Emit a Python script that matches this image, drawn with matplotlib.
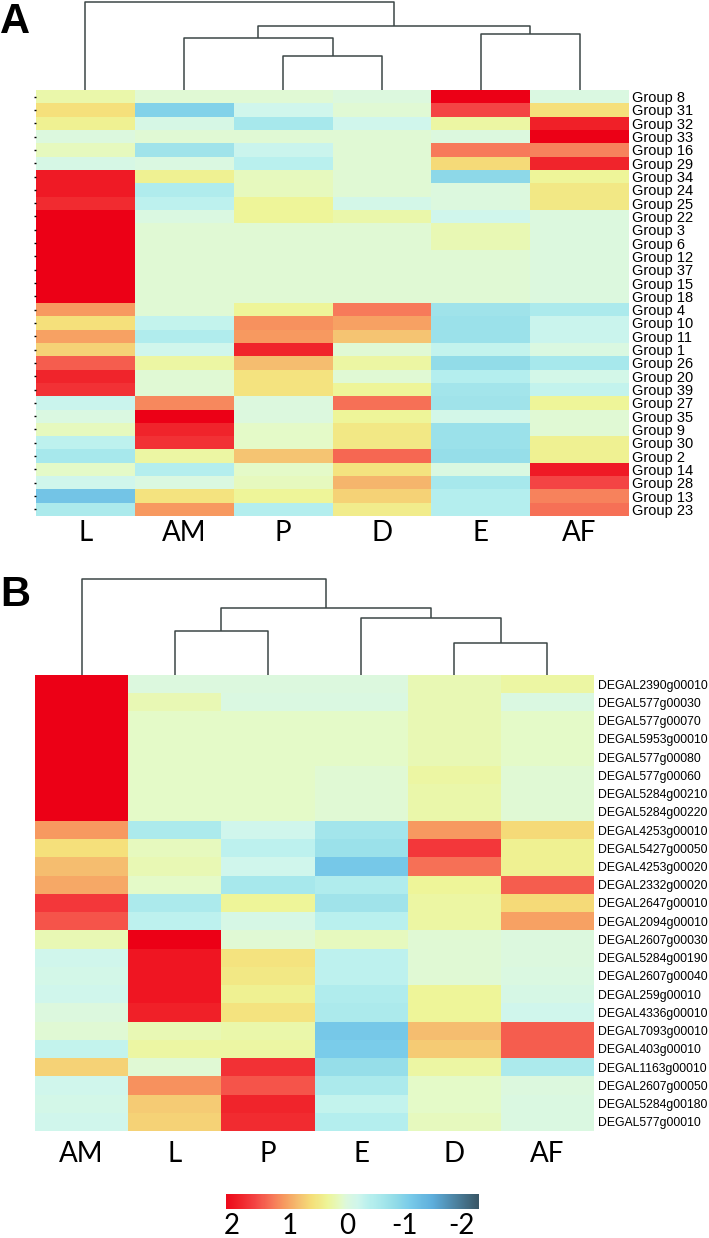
import matplotlib.pyplot as plt
from matplotlib.colors import LinearSegmentedColormap, Normalize
import numpy as np

W, H = 709, 1238

# ---- panel A data ----
cols_a = ["L", "AM", "P", "D", "E", "AF"]
rows_a = ["Group 8", "Group 31", "Group 32", "Group 33", "Group 16", "Group 29",
          "Group 34", "Group 24", "Group 25", "Group 22", "Group 3", "Group 6",
          "Group 12", "Group 37", "Group 15", "Group 18", "Group 4", "Group 10",
          "Group 11", "Group 1", "Group 26", "Group 20", "Group 39", "Group 27",
          "Group 35", "Group 9", "Group 30", "Group 2", "Group 14", "Group 28",
          "Group 13", "Group 23"]
vals_a = [
    [0.25, 0.05, 0.05, 0.0, 2.2, -0.05],
    [0.6, -1.0, -0.2, 0.05, 1.6, 0.6],
    [0.4, -0.1, -0.6, -0.2, 0.3, 1.9],
    [0.0, 0.05, 0.05, 0.05, 0.0, 2.2],
    [0.15, -0.7, -0.25, 0.05, 1.3, 1.25],
    [-0.1, -0.05, -0.4, 0.05, 0.65, 1.85],
    [1.95, 0.4, 0.15, 0.05, -0.9, 0.35],
    [1.95, -0.5, 0.15, 0.05, 0.0, 0.5],
    [1.8, -0.35, 0.35, -0.15, 0.0, 0.5],
    [2.2, -0.05, 0.35, 0.25, -0.2, 0.0],
    [2.2, 0.05, 0.05, 0.05, 0.2, 0.0],
    [2.2, 0.05, 0.05, 0.05, 0.2, 0.0],
    [2.2, 0.05, 0.05, 0.05, 0.05, 0.0],
    [2.2, 0.05, 0.05, 0.05, 0.05, 0.0],
    [2.2, 0.05, 0.05, 0.05, 0.05, 0.0],
    [2.2, 0.05, 0.05, 0.05, 0.05, 0.0],
    [1.1, 0.05, 0.35, 1.3, -0.7, -0.55],
    [0.6, -0.3, 1.15, 1.05, -0.75, -0.25],
    [1.05, -0.5, 1.1, 0.8, -0.75, -0.25],
    [0.7, -0.2, 1.85, 0.05, -0.3, -0.05],
    [1.45, 0.3, 0.85, 0.3, -0.85, -0.6],
    [1.85, 0.05, 0.55, 0.05, -0.45, -0.15],
    [1.75, 0.05, 0.55, 0.35, -0.65, -0.3],
    [-0.25, 1.2, 0.0, 1.35, -0.7, 0.35],
    [-0.05, 2.2, 0.0, 0.35, -0.15, 0.05],
    [0.15, 1.85, 0.1, 0.5, -0.75, 0.05],
    [-0.35, 1.75, 0.1, 0.5, -0.75, 0.4],
    [-0.6, 0.3, 0.8, 1.4, -0.8, 0.4],
    [0.1, -0.45, 0.1, 0.55, -0.05, 1.95],
    [-0.2, -0.05, 0.15, 0.9, -0.6, 1.6],
    [-1.2, 0.55, 0.35, 0.7, -0.45, 1.25],
    [-0.55, 1.1, -0.45, 0.45, -0.45, 1.35],
]
# merges: (left, right, height) ; ints refer to earlier merges
link_a = [("P", "D", 34), ("AM", 0, 52), ("E", "AF", 56), (1, 2, 64), ("L", 3, 88)]

# ---- panel B data ----
cols_b = ["AM", "L", "P", "E", "D", "AF"]
rows_b = ["DEGAL2390g00010", "DEGAL577g00030", "DEGAL577g00070", "DEGAL5953g00010",
          "DEGAL577g00080", "DEGAL577g00060", "DEGAL5284g00210", "DEGAL5284g00220",
          "DEGAL4253g00010", "DEGAL5427g00050", "DEGAL4253g00020", "DEGAL2332g00020",
          "DEGAL2647g00010", "DEGAL2094g00010", "DEGAL2607g00030", "DEGAL5284g00190",
          "DEGAL2607g00040", "DEGAL259g00010", "DEGAL4336g00010", "DEGAL7093g00010",
          "DEGAL403g00010", "DEGAL1163g00010", "DEGAL2607g00050", "DEGAL5284g00180",
          "DEGAL577g00010"]
vals_b = [
    [2.2, 0.0, 0.0, 0.0, 0.2, 0.3],
    [2.2, 0.2, -0.05, -0.05, 0.2, -0.05],
    [2.2, 0.1, 0.1, 0.1, 0.2, 0.1],
    [2.2, 0.1, 0.1, 0.1, 0.2, 0.1],
    [2.2, 0.1, 0.1, 0.1, 0.2, 0.1],
    [2.2, 0.1, 0.1, 0.05, 0.3, 0.05],
    [2.2, 0.1, 0.1, 0.05, 0.25, 0.05],
    [2.2, 0.1, 0.1, 0.05, 0.25, 0.05],
    [1.1, -0.55, -0.2, -0.65, 1.1, 0.65],
    [0.6, 0.15, -0.35, -0.75, 1.7, 0.4],
    [0.85, 0.2, -0.2, -1.15, 1.35, 0.4],
    [1.0, 0.1, -0.6, -0.5, 0.35, 1.45],
    [1.7, -0.55, 0.35, -0.7, 0.3, 0.65],
    [1.5, -0.35, -0.1, -0.4, 0.3, 1.05],
    [0.2, 2.2, 0.05, 0.15, 0.05, 0.0],
    [-0.2, 2.0, 0.55, -0.35, 0.05, 0.0],
    [-0.15, 2.0, 0.5, -0.35, 0.05, -0.05],
    [-0.2, 2.0, 0.4, -0.5, 0.35, -0.1],
    [0.0, 1.9, 0.55, -0.55, 0.35, -0.2],
    [0.05, 0.2, 0.25, -1.15, 0.85, 1.45],
    [-0.3, 0.3, 0.3, -1.1, 0.75, 1.45],
    [0.7, 0.05, 1.75, -0.8, 0.3, -0.55],
    [-0.2, 1.15, 1.5, -0.55, 0.1, 0.0],
    [-0.15, 0.75, 1.85, -0.3, 0.1, -0.05],
    [-0.2, 0.7, 1.8, -0.45, 0.15, -0.05],
]
link_b = [("L", "P", 44), ("D", "AF", 32), ("E", 1, 57), (0, 2, 67), ("AM", 3, 96)]

cbar_ticks = [2, 1, 0, -1, -2]

# colour scale
vmin, vmax = -2.3, 2.2
cmap_vals = [-2.3, -1.5, -1.1, -0.85, -0.6, -0.4, -0.2, 0.0, 0.1, 0.35, 0.6, 0.85,
             1.1, 1.3, 1.6, 1.9, 2.2]
cmap_cols = ["#3a5868", "#5eaedc", "#7accea", "#92dce8", "#a8e8ec", "#b8f0ee",
             "#d0f6ec", "#dcf8de", "#e4fac8", "#eef598", "#f5e07a", "#f5be70",
             "#f79a60", "#f77a5a", "#f44444", "#f02028", "#ec0016"]
cmap = LinearSegmentedColormap.from_list(
    "heat", [((v - vmin) / (vmax - vmin), c) for v, c in zip(cmap_vals, cmap_cols)])
norm = Normalize(vmin=vmin, vmax=vmax)

line_col = "#3c4646"


def box(x0, y0, x1, y1):
    return [x0 / W, 1 - y1 / H, (x1 - x0) / W, (y1 - y0) / H]


def dendro(ax, links, cols):
    pos = {c: i + 0.5 for i, c in enumerate(cols)}
    nodes = []
    def get(k):
        if isinstance(k, str):
            return pos[k], 0
        return nodes[k]
    for a, b, h in links:
        xa, ha = get(a)
        xb, hb = get(b)
        ax.plot([xa, xa, xb, xb], [ha, h, h, hb], color=line_col, lw=1.1,
                clip_on=False, solid_capstyle="butt")
        nodes.append(((xa + xb) / 2, h))
    ax.set_xlim(0, len(cols))
    ax.set_ylim(0, links[-1][2])
    ax.axis("off")


def heatmap(ax, vals, rows, cols, rowsize, colsize, colpad, rowfont):
    ax.pcolormesh(np.array(vals), cmap=cmap, norm=norm)
    ax.set_xlim(0, len(cols))
    ax.set_ylim(len(rows), 0)
    ax.set_xticks(np.arange(len(cols)) + 0.5)
    ax.set_xticklabels(cols, fontsize=colsize, family="Lato")
    ax.set_yticks(np.arange(len(rows)) + 0.5)
    ax.set_yticklabels(rows, fontsize=rowsize, family=rowfont)
    ax.tick_params(axis="x", length=0, pad=colpad)
    for s in ax.spines.values():
        s.set_visible(False)


fig = plt.figure(figsize=(W / 100, H / 100), dpi=100)

# panel A
ax_da = fig.add_axes(box(36, 2, 629, 90))
dendro(ax_da, link_a, cols_a)
ax_a = fig.add_axes(box(36, 90, 629, 516))
heatmap(ax_a, vals_a, rows_a, cols_a, 10.5, 20, 3, "Liberation Sans")
ax_a.tick_params(axis="y", left=True, right=False, labelleft=False, labelright=True,
                 length=1.5, width=1, pad=1, color="black")

# panel B
ax_db = fig.add_axes(box(35, 579, 594, 675))
dendro(ax_db, link_b, cols_b)
ax_b = fig.add_axes(box(35, 675, 594, 1131))
heatmap(ax_b, vals_b, rows_b, cols_b, 8.8, 20, 7, "Liberation Sans")
ax_b.tick_params(axis="y", left=False, right=False, labelleft=False, labelright=True,
                 length=0, pad=3)

fig.text(0 / W, 1 - 22 / H, "A", fontsize=30, fontweight="bold", va="center",
         family="Liberation Sans")
fig.text(0 / W, 1 - 595 / H, "B", fontsize=30, fontweight="bold", va="center",
         family="Liberation Sans")

# colour bar
ax_c = fig.add_axes(box(226, 1194, 479, 1209))
lo, hi = -2.3, 2.1
grad = np.linspace(hi, lo, 256).reshape(1, -1)
ax_c.imshow(grad, cmap=cmap, norm=norm, aspect="auto", extent=[hi, lo, 0, 1])
ax_c.set_xlim(hi, lo)
ax_c.set_yticks([])
ax_c.set_xticks(cbar_ticks)
ax_c.set_xticklabels([str(t) for t in cbar_ticks], fontsize=20, family="Lato")
ax_c.tick_params(axis="x", length=0, pad=3)
for s in ax_c.spines.values():
    s.set_visible(False)

fig.savefig("out.png", dpi=100)
